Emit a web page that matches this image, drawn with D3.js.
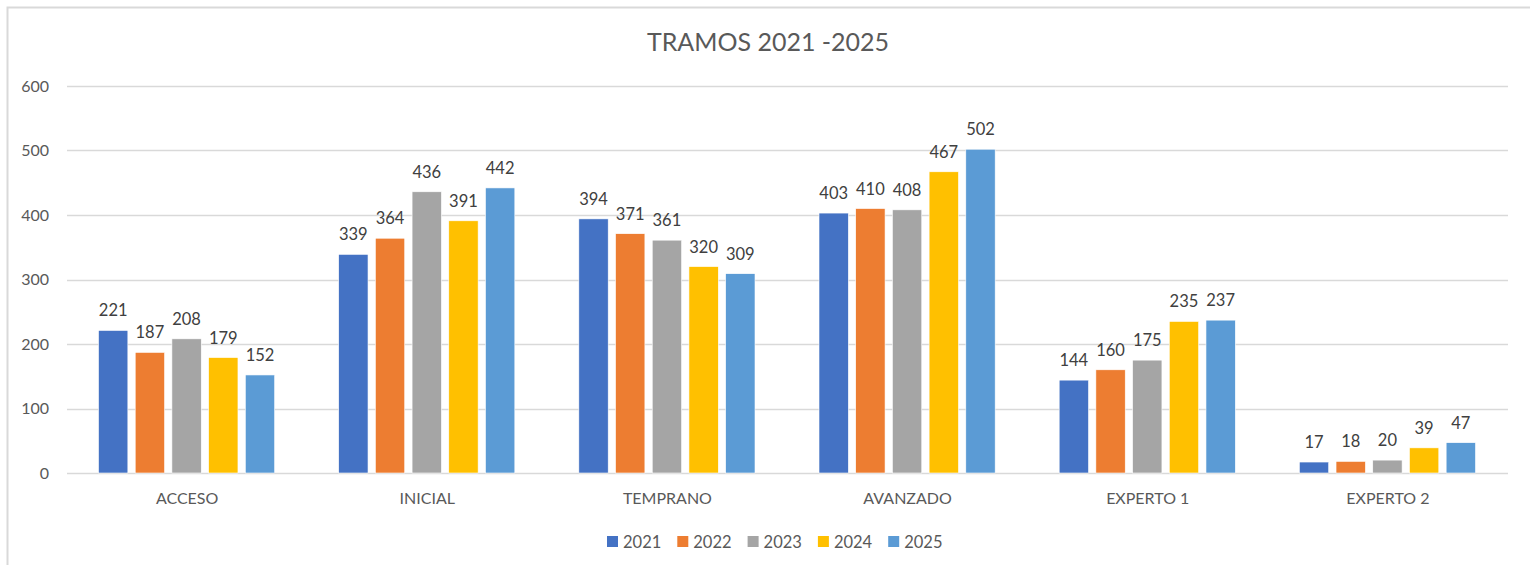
<!DOCTYPE html>
<html>
<head>
<meta charset="utf-8">
<script src="https://cdn.jsdelivr.net/npm/d3@7"></script>
<style>
  html, body { margin: 0; padding: 0; background: #fff; }
  text { font-family: Lato, "Open Sans", sans-serif; }
</style>
</head>
<body>
<div class="canvas"></div>
<script>
const categories = ['ACCESO', 'INICIAL', 'TEMPRANO', 'AVANZADO', 'EXPERTO 1', 'EXPERTO 2'];
const years = ['2021', '2022', '2023', '2024', '2025'];
const v2021 = [221, 339, 394, 403, 144, 17];
const v2022 = [187, 364, 371, 410, 160, 18];
const v2023 = [208, 436, 361, 408, 175, 20];
const v2024 = [179, 391, 320, 467, 235, 39];
const v2025 = [152, 442, 309, 502, 237, 47];
const yTicks = [0, 100, 200, 300, 400, 500, 600];
const colors = ['#4472c4', '#ed7d31', '#a5a5a5', '#ffc000', '#5b9bd5'];

const series = [v2021, v2022, v2023, v2024, v2025];

const svg = d3.select('.canvas')
  .append('svg')
    .attr('width', 1530)
    .attr('height', 565);

// outer chart border
svg.append('rect')
  .attr('x', 7.5).attr('y', 7.5)
  .attr('width', 1540).attr('height', 580)
  .attr('fill', 'none')
  .attr('stroke', '#d9d9d9')
  .attr('stroke-width', 2);

const margin = { top: 86, left: 67, right: 22, bottom: 92 };
const graphWidth = 1530 - margin.left - margin.right;
const graphHeight = 565 - margin.top - margin.bottom;

const graph = svg.append('g')
  .attr('transform', `translate(${margin.left}, ${margin.top})`);

const y = d3.scaleLinear()
  .domain([0, 600])
  .range([graphHeight, 0]);

const x0 = d3.scaleBand()
  .domain(categories)
  .range([0, graphWidth]);

const x1 = d3.scaleBand()
  .domain(years)
  .range([31.5, x0.bandwidth() - 32.5])
  .paddingInner(0.2);

// gridlines
graph.append('g')
  .selectAll('line')
  .data(yTicks)
  .enter()
  .append('line')
    .attr('x1', 0)
    .attr('x2', graphWidth)
    .attr('y1', d => Math.round(y(d)) + 0.5)
    .attr('y2', d => Math.round(y(d)) + 0.5)
    .attr('stroke', '#d9d9d9')
    .attr('stroke-width', 1.3);

// y axis labels
const yAxis = d3.axisLeft(y).tickValues(yTicks).tickSize(0).tickPadding(18);
const yAxisGroup = graph.append('g').call(yAxis);
yAxisGroup.select('.domain').remove();
yAxisGroup.selectAll('text')
  .attr('fill', '#595959')
  .style('font-size', '16px');

// bars
const groups = graph.selectAll('g.cat')
  .data(categories)
  .enter()
  .append('g')
    .attr('class', 'cat')
    .attr('transform', d => `translate(${x0(d)}, 0)`);

const cells = groups.selectAll('g.bar')
  .data((c, i) => years.map((yr, j) => ({ year: yr, value: series[j][i], color: colors[j] })))
  .enter()
  .append('g');

cells.append('rect')
  .attr('x', d => x1(d.year))
  .attr('width', x1.bandwidth())
  .attr('y', d => y(d.value))
  .attr('height', d => graphHeight - y(d.value))
  .attr('fill', d => d.color)
  .attr('stroke', '#fff')
  .attr('stroke-width', 0.6);

cells.append('text')
  .attr('x', d => x1(d.year) + x1.bandwidth() / 2)
  .attr('y', d => y(d.value) - 14)
  .attr('text-anchor', 'middle')
  .attr('fill', '#404040')
  .style('font-size', '16.5px')
  .text(d => d.value);

// x axis labels
const xAxis = d3.axisBottom(x0).tickSize(0).tickPadding(20);
const xAxisGroup = graph.append('g')
  .attr('transform', `translate(0, ${graphHeight})`)
  .call(xAxis);
xAxisGroup.select('.domain').remove();
xAxisGroup.selectAll('text')
  .attr('fill', '#595959')
  .style('font-size', '16px');

// title
svg.append('text')
  .attr('x', 768)
  .attr('y', 51)
  .attr('text-anchor', 'middle')
  .attr('fill', '#595959')
  .style('font-size', '25px')
  .text('TRAMOS 2021 -2025');

// legend
const legend = svg.append('g')
  .attr('transform', 'translate(607, 536)');

const items = legend.selectAll('g')
  .data(years)
  .enter()
  .append('g')
    .attr('transform', (d, i) => `translate(${i * 70.3}, 0)`);

items.append('rect')
  .attr('width', 11)
  .attr('height', 11)
  .attr('fill', (d, i) => colors[i]);

items.append('text')
  .attr('x', 16)
  .attr('y', 11.5)
  .attr('fill', '#595959')
  .style('font-size', '16.5px')
  .text(d => d);
</script>
</body>
</html>
